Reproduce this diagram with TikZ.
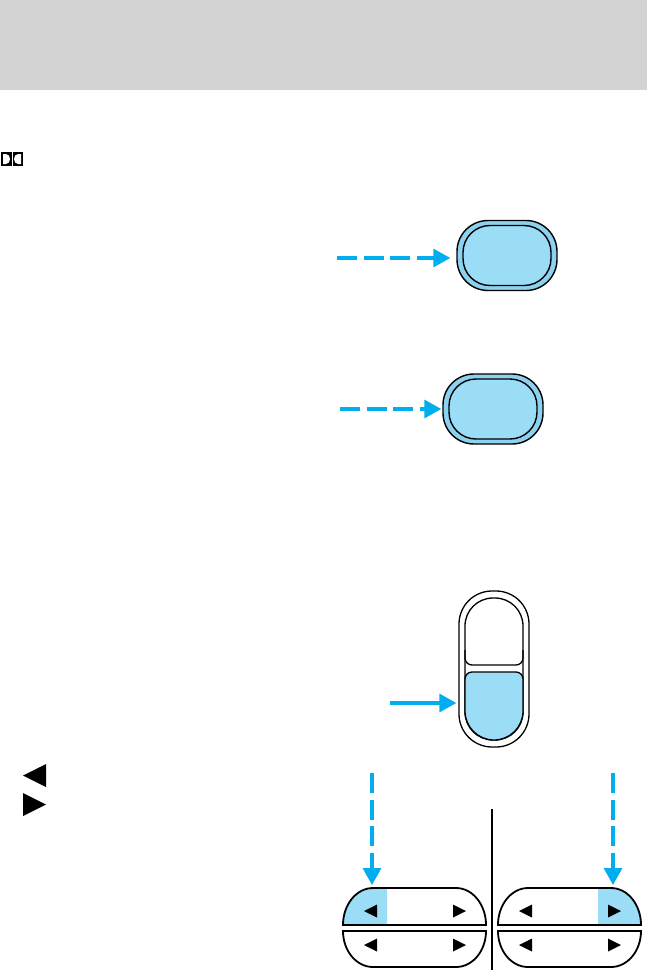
\documentclass[tikz,border=0pt]{standalone}
\usepackage{tikz}
\usetikzlibrary{arrows.meta,positioning}
\definecolor{hdrgray}{HTML}{D3D3D3}
\definecolor{pointcol}{HTML}{00AEEF}
\definecolor{keycol}{HTML}{9BDDF6}
\definecolor{ringcol}{HTML}{8CD2EE}

\begin{document}
\begin{tikzpicture}[
  x=1pt, y=-1pt,
  >={Triangle[length=17pt,width=18pt]},
  outerkey/.style={draw, line width=1.4pt, fill=ringcol, rounded corners=31pt, inner sep=0pt,
                   minimum width=100pt, minimum height=70pt},
  innerkey/.style={draw, line width=1.4pt, fill=keycol, rounded corners=27pt, inner sep=0pt,
                   minimum width=88pt, minimum height=60pt},
  rockedge/.style={draw, line width=1.3pt, fill=white, inner sep=0pt},
  halfkey/.style={draw, line width=1.8pt},
  dasharr/.style={->, pointcol, line width=3.2pt, dash pattern=on 20pt off 6.5pt},
  solidarr/.style={->, pointcol, line width=3.2pt},
]
\useasboundingbox (0,0) rectangle (647,970);

% header band
\fill[hdrgray] (0,0) rectangle (647,90);

% double-D mark
\fill (1,152) rectangle (23,166);
\fill[white] (3,154) -- (6,154) arc[start angle=-90, end angle=90, x radius=4, y radius=5] -- (3,164) -- cycle;
\fill[white] (21,154) -- (18,154) arc[start angle=-90, end angle=-270, x radius=4, y radius=5] -- (21,164) -- cycle;
\draw[white, line width=0.6pt] (12,152) -- (12,166);

% first round key
\node[outerkey] (recout) at (507,255.5) {};
\node[innerkey] (recin)  at (507,255.5) {};
\coordinate (recfrom) at (337,258);
\draw[dasharr, shorten >=6pt] (recfrom) -- (recfrom -| recout.west);

% second round key
\node[outerkey] (modeout) at (493,409) {};
\node[innerkey] (modein)  at (493,409) {};
\coordinate (modefrom) at (340,409);
\draw[dasharr, shorten >=1pt] (modefrom) -- (modefrom -| modeout.west);

% rocker
\node[rockedge, minimum width=70pt, minimum height=156pt, rounded corners=33pt] (rocker) at (494,669) {};
\node[rockedge, minimum width=58pt, minimum height=142pt, rounded corners=28pt] (rockin) at (494,669) {};
\draw[line width=1.3pt, rounded corners=7pt] (465,650) -- (465,665) -- (523,665) -- (523,650);
\draw[line width=1.3pt, fill=keycol] (465,700) [rounded corners=7pt] -- (465,672) -- (523,672) -- (523,700)
  [sharp corners] -- (523,711) arc[start angle=0, end angle=180, radius=29] -- cycle;
\coordinate (rockfrom) at (390,703);
\draw[solidarr, shorten >=2pt] (rockfrom) -- (rockfrom -| rocker.west);

% legend marks
\fill (46,764) -- (23,775.5) -- (46,787) -- cycle;
\fill (23,793) -- (46,804.5) -- (23,816) -- cycle;

% seek switches
\begin{scope}
  \clip (340,880) rectangle (387,926);
  \fill[keycol] (343,925) arc[start angle=180, end angle=270, x radius=30, y radius=37] -- (456,888)
    arc[start angle=270, end angle=360, x radius=30, y radius=37] -- cycle;
\end{scope}
\begin{scope}[xshift=155]
  \clip (443,880) rectangle (490,926);
  \fill[keycol] (343,925) arc[start angle=180, end angle=270, x radius=30, y radius=37] -- (456,888)
    arc[start angle=270, end angle=360, x radius=30, y radius=37] -- cycle;
\end{scope}
\foreach \ox in {0,155} {
  \begin{scope}[xshift=\ox]
    \draw[halfkey] (343,925) arc[start angle=180, end angle=270, x radius=30, y radius=37] -- (456,888)
      arc[start angle=270, end angle=360, x radius=30, y radius=37] -- cycle;
    \draw[halfkey] (343,931) -- (486,931) arc[start angle=0, end angle=90, x radius=30, y radius=36]
      -- (373,967) arc[start angle=90, end angle=180, x radius=30, y radius=36] -- cycle;
    \foreach \ty in {911,945} {
      \fill (364,\ty) -- (377,\ty-6.5) -- (377,\ty+6.5) -- cycle;
      \fill (466,\ty) -- (453,\ty-6.5) -- (453,\ty+6.5) -- cycle;
    }
  \end{scope}
}
\coordinate (lswfrom) at (372,773);
\coordinate (lswtop)  at (372,888);
\coordinate (rswfrom) at (613,773);
\coordinate (rswtop)  at (613,888);
\draw[dasharr, shorten >=3pt] (lswfrom) -- (lswtop);
\draw[dasharr, shorten >=3pt] (rswfrom) -- (rswtop);

% divider
\coordinate (divtop) at (492,809);
\coordinate (divbot) at (492,970);
\draw[line width=1.4pt] (divtop) -- (divbot);

\end{tikzpicture}
\end{document}
